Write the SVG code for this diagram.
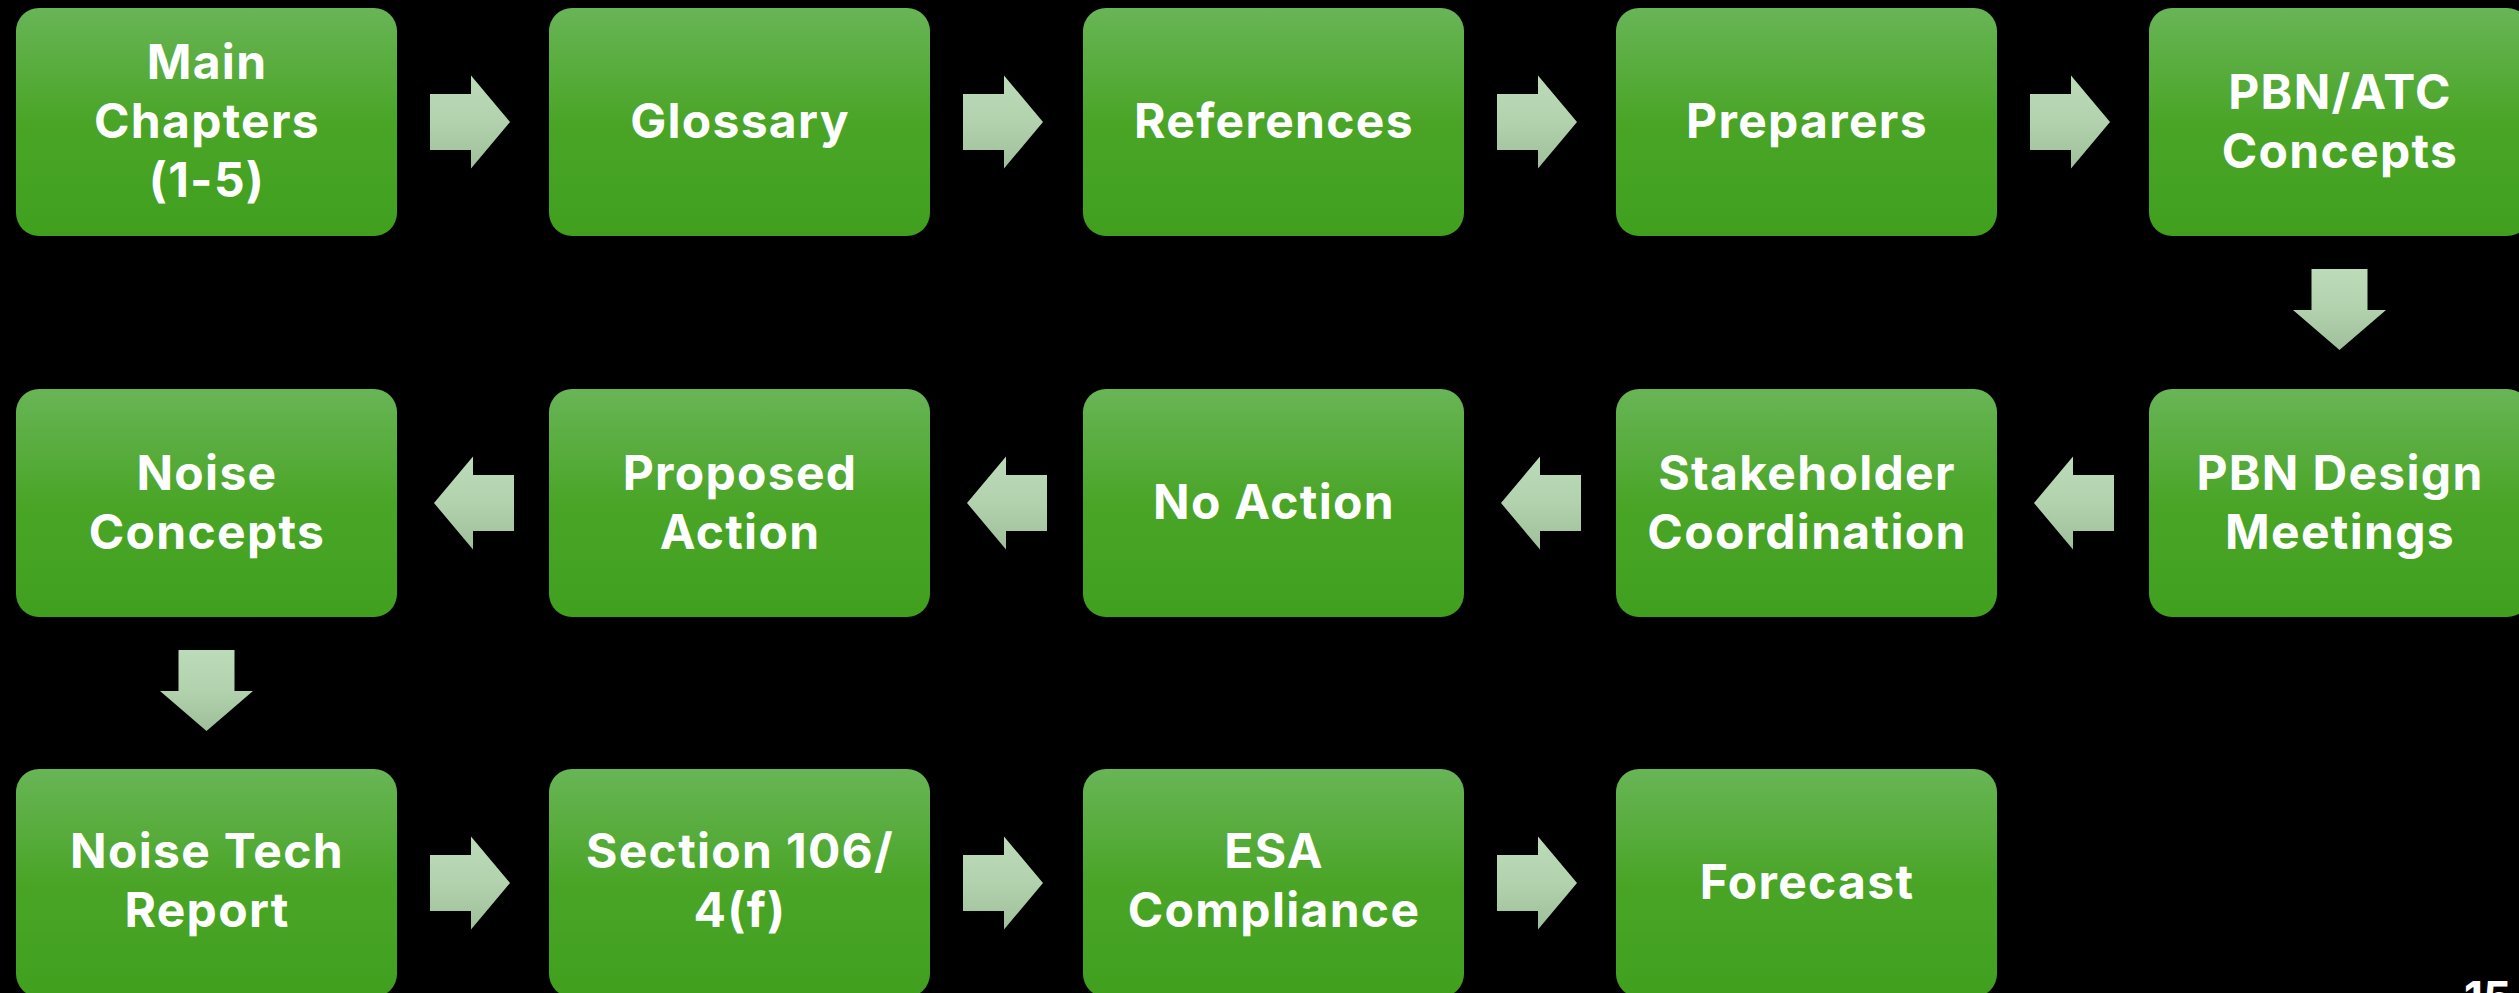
<svg xmlns="http://www.w3.org/2000/svg" width="2519" height="993" viewBox="0 0 2519 993">
<defs>
<linearGradient id="boxg" x1="0" y1="0" x2="0" y2="1">
<stop offset="0" stop-color="#68b556"/>
<stop offset="0.5" stop-color="#4aa527"/>
<stop offset="1" stop-color="#40a01e"/>
</linearGradient>
<linearGradient id="arrg" x1="0" y1="0" x2="0" y2="1">
<stop offset="0" stop-color="#bcdbb8"/>
<stop offset="0.5" stop-color="#b2d2ae"/>
<stop offset="1" stop-color="#9ebf99"/>
</linearGradient>
<path id="ar" d="M0,-28 H41 V-46.5 L80,0 L41,46.5 V28 H0 Z"/>
<path id="al" d="M0,0 L39,-46.5 V-28 H80 V28 H39 V46.5 Z"/>
<path id="ad" d="M-28,0 H28 V41 H46.5 L0,81 L-46.5,41 H-28 Z"/>
</defs>
<style>
.box{fill:url(#boxg)}
.arr{fill:url(#arrg)}
.t{font-family:Inter,"Open Sans","Liberation Sans",Arial,sans-serif;font-weight:700;font-size:48px;letter-spacing:1.3px;fill:#ffffff;text-anchor:middle}
.num{font-family:Inter,"Liberation Sans",Arial,sans-serif;font-weight:700;font-size:44px;fill:#ffffff;text-anchor:end}
</style>
<rect x="0" y="0" width="2519" height="993" fill="#000000"/>

<g id="connectors">
<use href="#ar" class="arr" x="430" y="122"/>
<use href="#ar" class="arr" x="963" y="122"/>
<use href="#ar" class="arr" x="1497" y="122"/>
<use href="#ar" class="arr" x="2030" y="122"/>
<use href="#ad" class="arr" x="2339.5" y="269"/>
<use href="#al" class="arr" x="2034" y="503"/>
<use href="#al" class="arr" x="1501" y="503"/>
<use href="#al" class="arr" x="967" y="503"/>
<use href="#al" class="arr" x="434" y="503"/>
<use href="#ad" class="arr" x="206.5" y="650"/>
<use href="#ar" class="arr" x="430" y="883"/>
<use href="#ar" class="arr" x="963" y="883"/>
<use href="#ar" class="arr" x="1497" y="883"/>
</g>

<g id="n1"><rect class="box" x="16" y="8" width="381" height="228" rx="23"/>
<text class="t" x="207" y="79">Main</text><text class="t" x="207" y="138">Chapters</text><text class="t" x="207" y="197">(1-5)</text></g>
<g id="n2"><rect class="box" x="549" y="8" width="381" height="228" rx="23"/>
<text class="t" x="740" y="138">Glossary</text></g>
<g id="n3"><rect class="box" x="1083" y="8" width="381" height="228" rx="23"/>
<text class="t" x="1274" y="138">References</text></g>
<g id="n4"><rect class="box" x="1616" y="8" width="381" height="228" rx="23"/>
<text class="t" x="1807" y="138">Preparers</text></g>
<g id="n5"><rect class="box" x="2149" y="8" width="381" height="228" rx="23"/>
<text class="t" x="2340" y="108.5">PBN/ATC</text><text class="t" x="2340" y="167.5">Concepts</text></g>

<g id="n6"><rect class="box" x="2149" y="389" width="381" height="228" rx="23"/>
<text class="t" x="2340" y="489.5">PBN Design</text><text class="t" x="2340" y="548.5">Meetings</text></g>
<g id="n7"><rect class="box" x="1616" y="389" width="381" height="228" rx="23"/>
<text class="t" x="1807" y="489.5">Stakeholder</text><text class="t" x="1807" y="548.5">Coordination</text></g>
<g id="n8"><rect class="box" x="1083" y="389" width="381" height="228" rx="23"/>
<text class="t" x="1274" y="519">No Action</text></g>
<g id="n9"><rect class="box" x="549" y="389" width="381" height="228" rx="23"/>
<text class="t" x="740" y="489.5">Proposed</text><text class="t" x="740" y="548.5">Action</text></g>
<g id="n10"><rect class="box" x="16" y="389" width="381" height="228" rx="23"/>
<text class="t" x="207" y="489.5">Noise</text><text class="t" x="207" y="548.5">Concepts</text></g>

<g id="n11"><rect class="box" x="16" y="769" width="381" height="228" rx="23"/>
<text class="t" x="207" y="868">Noise Tech</text><text class="t" x="207" y="927">Report</text></g>
<g id="n12"><rect class="box" x="549" y="769" width="381" height="228" rx="23"/>
<text class="t" x="740" y="868">Section 106/</text><text class="t" x="740" y="927">4(f)</text></g>
<g id="n13"><rect class="box" x="1083" y="769" width="381" height="228" rx="23"/>
<text class="t" x="1274" y="868">ESA</text><text class="t" x="1274" y="927">Compliance</text></g>
<g id="n14"><rect class="box" x="1616" y="769" width="381" height="228" rx="23"/>
<text class="t" x="1807" y="899">Forecast</text></g>

<text class="num" x="2511" y="1013">15</text>
</svg>
